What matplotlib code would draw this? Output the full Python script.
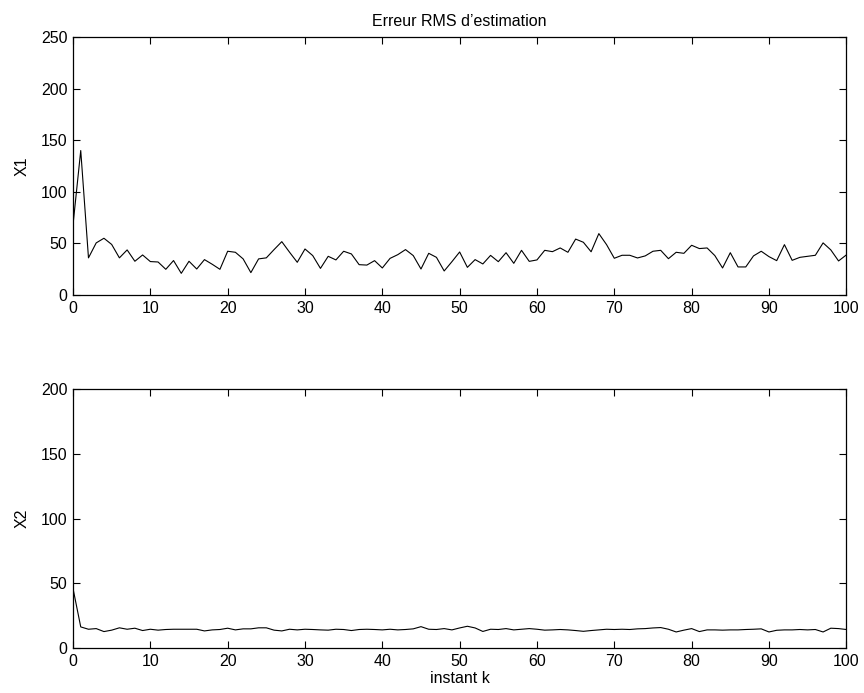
import numpy as np
import matplotlib
matplotlib.use("Agg")
import matplotlib.pyplot as plt

# DATA #
k = np.arange(0, 101)

x1_err = [68, 140, 36, 50.5, 55, 49, 36, 43.7, 32.7, 38.8,
          32.4, 32, 24.9, 33.4, 21, 32.7, 25.2, 34.3, 29.8, 24.9,
          42.4, 41.4, 35, 21.7, 35, 36, 44, 51.7, 41.5, 31.7,
          44.6, 38.2, 25.8, 37.5, 34, 42.4, 39.8, 29.4, 29, 33.3,
          26.2, 35.5, 39.1, 44, 38.2, 25.2, 40.4, 36.5, 23.3, 32.3,
          41.7, 26.8, 34.3, 30.1, 38.4, 32.3, 41, 30.7, 43.3, 32.6,
          34, 43.3, 42, 45.6, 41.4, 54.2, 51.1, 41.9, 59.5, 48.8,
          35.6, 38.5, 38.5, 35.9, 37.9, 42.4, 43.3, 35.2, 41.4, 40.4,
          48.2, 45, 45.6, 38.2, 26.2, 41, 27.2, 27.2, 37.9, 42.4,
          37.2, 33.3, 48.8, 33.6, 36.5, 37.5, 38.5, 50.5, 43.7, 33,
          38.8]

x2_err = [46, 16.3, 14.5, 15, 12.7, 13.8, 15.6, 14.5, 15.3, 13.5,
          14.5, 13.8, 14.3, 14.5, 14.5, 14.5, 14.5, 13.2, 14, 14.3,
          15.3, 14, 14.8, 14.8, 15.6, 15.6, 13.8, 13.2, 14.5, 14,
          14.5, 14.3, 14, 13.8, 14.5, 14.3, 13.5, 14.3, 14.5, 14.3,
          14, 14.5, 14, 14.3, 14.8, 16.5, 14.5, 14.3, 15, 14,
          15.5, 16.8, 15.5, 12.8, 14.5, 14.3, 15, 14, 14.5, 15,
          14.5, 13.8, 14, 14.3, 14, 13.5, 12.9, 13.5, 14, 14.5,
          14.3, 14.5, 14.3, 14.8, 15, 15.5, 15.8, 14.5, 12.4, 13.8,
          15, 12.7, 14, 14, 13.8, 14, 14, 14.3, 14.5, 14.8,
          12.4, 13.7, 14, 14, 14.3, 14, 14.3, 12.4, 15.3, 15,
          14.3]

x_ticks = np.arange(0, 101, 10)
y1_ticks = np.arange(0, 251, 50)
y2_ticks = np.arange(0, 201, 50)
# END OF DATA #

plt.rcParams['font.family'] = ['Liberation Sans', 'DejaVu Sans']
plt.rcParams['font.size'] = 11.5

fig = plt.figure(figsize=(8.64, 6.93), dpi=100)
ax1 = fig.add_axes([0.0845, 0.5743, 0.895, 0.3723])
ax2 = fig.add_axes([0.0845, 0.0649, 0.895, 0.3738])


def style(ax, yticks):
    ax.set_xlim(0, 100)
    ax.set_ylim(yticks[0], yticks[-1])
    ax.set_xticks(x_ticks)
    ax.set_yticks(yticks)
    ax.tick_params(direction='in', length=5, width=0.8, top=True, right=True,
                   labelsize=11.5, pad=4)
    for s in ax.spines.values():
        s.set_linewidth(0.9)


ax1.plot(k, x1_err, color='black', linewidth=0.8)
style(ax1, y1_ticks)
ax1.set_ylabel("X1", labelpad=8)
ax1.set_title("Erreur RMS d\u2019estimation", fontsize=11.5, pad=8)

ax2.plot(k, x2_err, color='black', linewidth=0.8)
style(ax2, y2_ticks)
ax2.set_ylabel("X2", labelpad=8)
ax2.set_xlabel("instant k", labelpad=2)

fig.savefig("out.png", dpi=100)
